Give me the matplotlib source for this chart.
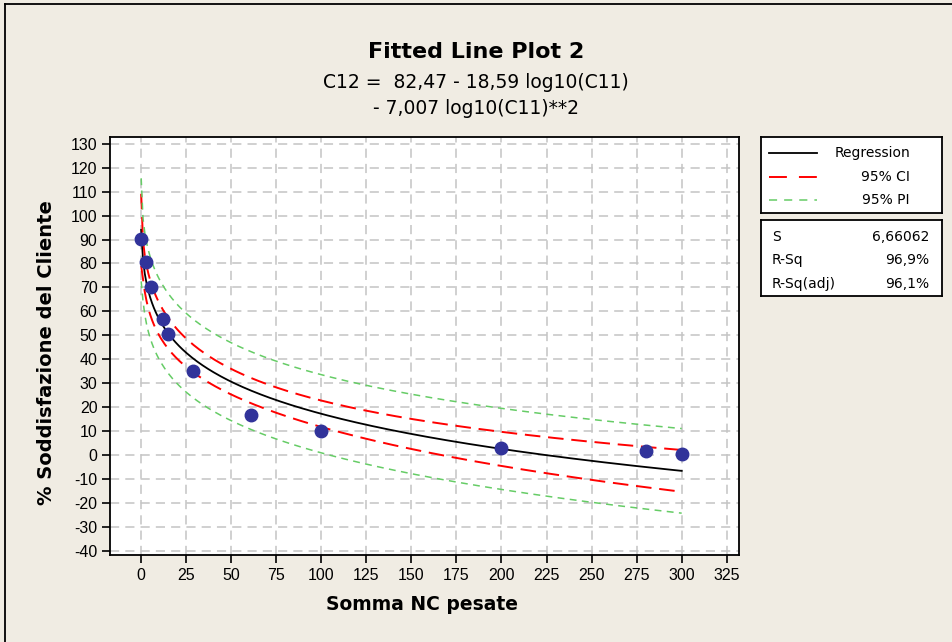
import numpy as np
import matplotlib
matplotlib.use("Agg")
import matplotlib.pyplot as plt
from matplotlib.lines import Line2D

# data
somma_nc = [0.1, 2.8, 5.6, 12.4, 15.2, 28.7, 61.3, 100, 200, 280, 300]
soddisfazione = [90.3, 80.5, 70.1, 56.8, 50.4, 35.2, 16.9, 10.0, 3.1, 1.7, 0.3]

# model as printed in the title (quadratic in log10 x)
coef = [82.47, -18.59, -7.007]
s_value = 6.66062
r_sq = "96,9%"
r_sq_adj = "96,1%"
t_crit = 2.306  # t(0.975, df=8)

x_ticks = list(range(0, 326, 25))
y_ticks = list(range(-40, 131, 10))

bg = "#F0ECE3"
plt.rcParams["axes.unicode_minus"] = False
fnt_title = ["DejaVu Sans"]
fnt = ["Liberation Sans", "DejaVu Sans"]

reg_style = dict(color="black", lw=1.3, linestyle="-")
ci_style = dict(color="#FF0000", lw=1.4, linestyle=(0, (8, 4)))
pi_style = dict(color="#66CC66", lw=1.1, linestyle=(0, (4.5, 3.5)))

# fit line + bands
xd = np.array(somma_nc)
X = np.column_stack([np.ones_like(xd), np.log10(xd), np.log10(xd) ** 2])
M = np.linalg.inv(X.T @ X)
xs = np.linspace(min(somma_nc), max(somma_nc), 300)
Xs = np.column_stack([np.ones_like(xs), np.log10(xs), np.log10(xs) ** 2])
yfit = Xs @ np.array(coef)
se_fit = s_value * np.sqrt(np.einsum("ij,jk,ik->i", Xs, M, Xs))
ci = t_crit * se_fit
pi = t_crit * np.sqrt(s_value ** 2 + se_fit ** 2)

fig = plt.figure(figsize=(9.52, 6.42), dpi=100, facecolor=bg)
W, H = 952, 642

def fbox(x0, y0, x1, y1):
    # pixel box (top-left origin) -> figure fraction rect
    return [x0 / W, 1 - y1 / H, (x1 - x0) / W, (y1 - y0) / H]

ax = fig.add_axes(fbox(110, 137, 739, 555))
ax.set_facecolor("white")

ax.plot(xs, yfit, zorder=3, **reg_style)
for sign in (1, -1):
    ax.plot(xs, yfit + sign * ci, zorder=3, **ci_style)
    ax.plot(xs, yfit + sign * pi, zorder=3, **pi_style)
ax.plot(somma_nc, soddisfazione, "o", color="#31339A", ms=9, zorder=4)

ax.set_xlim(-17.2, 331.8)
ax.set_ylim(-41.7, 132.8)
ax.set_xticks(x_ticks)
ax.set_yticks(y_ticks)
ax.grid(True, color="#C4C4C4", lw=1.1, linestyle=(0, (6, 4)), zorder=0)
ax.tick_params(direction="out", length=6, width=1.2, labelsize=11.5, pad=3)
for lab in ax.get_xticklabels() + ax.get_yticklabels():
    lab.set_family(fnt)
for sp in ax.spines.values():
    sp.set_linewidth(1.3)

fig.text(422.5 / W, 1 - 605 / H, "Somma NC pesate", ha="center", va="center",
         fontsize=13.5, fontweight="bold", family=fnt_title)
fig.text(47 / W, 1 - 353 / H, "% Soddisfazione del Cliente", ha="center",
         va="center", rotation=90, fontsize=14, fontweight="bold",
         family=fnt_title)

fig.text(0.5, 1 - 52 / H, "Fitted Line Plot 2", ha="center", va="center",
         fontsize=16, fontweight="bold", family=fnt_title)
fig.text(0.5, 1 - 82 / H, "C12 =  82,47 - 18,59 log10(C11)", ha="center",
         va="center", fontsize=13.5, family=fnt_title)
fig.text(0.5, 1 - 109 / H, "- 7,007 log10(C11)**2", ha="center",
         va="center", fontsize=13.5, family=fnt_title)

# legend box
lg = fig.add_axes(fbox(761, 137, 942, 213))
lg.set_xlim(761, 942)
lg.set_ylim(213, 137)
lg.set_xticks([])
lg.set_yticks([])
for sp in lg.spines.values():
    sp.set_linewidth(1.3)
ci_leg = dict(ci_style, linestyle=(0, (9.2, 6.2)))
pi_leg = dict(pi_style, linestyle=(0, (5.3, 4.6)))
entries = [("Regression", reg_style, 153),
           ("95% CI", ci_leg, 177),
           ("95% PI", pi_leg, 200)]
for name, style, yy in entries:
    lg.add_line(Line2D([769, 817], [yy, yy], **style))
    lg.text(910, yy, name, ha="right", va="center", fontsize=10,
            family=["DejaVu Sans"])

# stats box
st = fig.add_axes(fbox(761, 220, 942, 296))
st.set_xlim(761, 942)
st.set_ylim(296, 220)
st.set_xticks([])
st.set_yticks([])
for sp in st.spines.values():
    sp.set_linewidth(1.3)
stats = [("S", f"{s_value:.5f}".replace(".", ","), 237),
         ("R-Sq", r_sq, 260),
         ("R-Sq(adj)", r_sq_adj, 284)]
for name, val, yy in stats:
    st.text(772, yy, name, ha="left", va="center", fontsize=10,
            family=["DejaVu Sans"])
    st.text(929, yy, val, ha="right", va="center", fontsize=10,
            family=["DejaVu Sans"])

# outer frame (left and top edges visible)
fig.add_artist(Line2D([5 / W, 5 / W], [0, 1 - 4 / H], color="black", lw=1.3,
                      transform=fig.transFigure))
fig.add_artist(Line2D([5 / W, 1], [1 - 4 / H, 1 - 4 / H], color="black", lw=1.3,
                      transform=fig.transFigure))

fig.savefig("out.png", dpi=100, facecolor=bg)
